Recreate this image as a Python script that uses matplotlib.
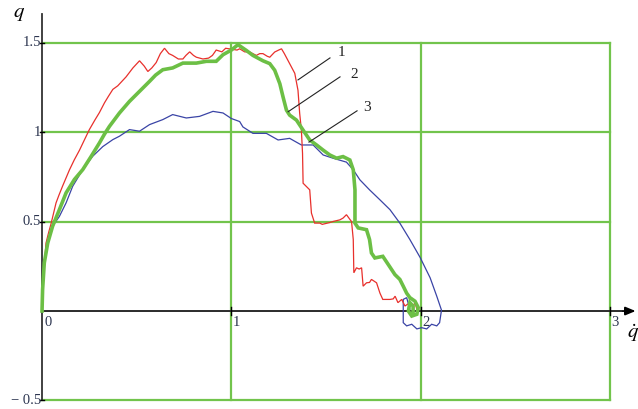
import numpy as np
import matplotlib
matplotlib.use("Agg")
import matplotlib.pyplot as plt

plt.rcParams['mathtext.fontset'] = 'stix'

# curve 1 (red) as (q_dot, q) pairs
red_pts = [(0, 0), (0.005, 0.16), (0.021, 0.38), (0.035, 0.44), (0.048, 0.49), (0.074, 0.605),
           (0.09, 0.65), (0.109, 0.70), (0.145, 0.79), (0.17, 0.845), (0.198, 0.90), (0.225, 0.96),
           (0.25, 1.015), (0.28, 1.07), (0.303, 1.11), (0.33, 1.165), (0.35, 1.20), (0.374, 1.24),
           (0.40, 1.26), (0.444, 1.31), (0.48, 1.36), (0.515, 1.40), (0.54, 1.37), (0.559, 1.34),
           (0.58, 1.36), (0.603, 1.39), (0.625, 1.44), (0.647, 1.47), (0.67, 1.44), (0.69, 1.43),
           (0.72, 1.41), (0.744, 1.41), (0.76, 1.43), (0.78, 1.45), (0.80, 1.43), (0.815, 1.42),
           (0.85, 1.41), (0.88, 1.415), (0.90, 1.43), (0.92, 1.46), (0.95, 1.45), (0.97, 1.47),
           (1.0, 1.465), (1.03, 1.46), (1.044, 1.467), (1.07, 1.45), (1.097, 1.449), (1.132, 1.43),
           (1.15, 1.44), (1.167, 1.44), (1.19, 1.425), (1.203, 1.42), (1.229, 1.449), (1.25, 1.46),
           (1.265, 1.467), (1.28, 1.44), (1.30, 1.40), (1.335, 1.33), (1.352, 1.235), (1.361, 1.105),
           (1.37, 1.012), (1.376, 0.882), (1.379, 0.715), (1.397, 0.696), (1.414, 0.678), (1.423, 0.548),
           (1.44, 0.492), (1.467, 0.492), (1.48, 0.485), (1.50, 0.49), (1.52, 0.495), (1.537, 0.501),
           (1.573, 0.51), (1.59, 0.52), (1.608, 0.539), (1.635, 0.50), (1.644, 0.40), (1.647, 0.214),
           (1.661, 0.242), (1.675, 0.235), (1.688, 0.242), (1.696, 0.139), (1.714, 0.158), (1.73, 0.16),
           (1.74, 0.177), (1.767, 0.158), (1.785, 0.10), (1.80, 0.065), (1.838, 0.065), (1.855, 0.068),
           (1.865, 0.083), (1.88, 0.047), (1.90, 0.065), (1.917, 0.028), (1.943, 0.047), (1.96, 0.028),
           (1.97, 0.047), (1.98, 0.01), (1.99, 0.01)]

# curve 2 (green, thick)
green_pts = [(0, 0), (0.003, 0.12), (0.012, 0.27), (0.03, 0.38), (0.056, 0.475), (0.092, 0.568),
             (0.127, 0.661), (0.15, 0.70), (0.171, 0.736), (0.215, 0.791), (0.26, 0.866), (0.303, 0.94),
             (0.33, 0.99), (0.356, 1.033), (0.409, 1.108), (0.462, 1.173), (0.515, 1.229), (0.568, 1.285),
             (0.60, 1.32), (0.638, 1.35), (0.69, 1.36), (0.744, 1.387), (0.815, 1.387), (0.868, 1.397),
             (0.92, 1.397), (0.956, 1.434), (1.0, 1.46), (1.035, 1.49), (1.079, 1.458), (1.114, 1.43),
             (1.167, 1.40), (1.203, 1.384), (1.229, 1.347), (1.256, 1.272), (1.273, 1.198), (1.291, 1.124),
             (1.308, 1.096), (1.344, 1.068), (1.379, 1.012), (1.414, 0.957), (1.45, 0.929), (1.485, 0.90),
             (1.52, 0.873), (1.556, 0.855), (1.59, 0.864), (1.626, 0.845), (1.644, 0.79), (1.653, 0.678),
             (1.653, 0.492), (1.67, 0.465), (1.714, 0.455), (1.73, 0.40), (1.74, 0.325), (1.758, 0.297),
             (1.80, 0.306), (1.829, 0.26), (1.864, 0.204), (1.89, 0.177), (1.908, 0.139), (1.926, 0.10),
             (1.943, 0.075), (1.97, 0.055), (1.987, 0.02), (1.98, -0.018), (1.953, -0.028), (1.935, 0.0),
             (1.943, 0.047), (1.96, 0.028), (1.96, -0.01)]

# curve 3 (blue)
blue_pts = [(0, 0), (0.003, 0.10), (0.012, 0.27), (0.03, 0.38), (0.056, 0.475), (0.092, 0.53),
            (0.127, 0.605), (0.162, 0.698), (0.215, 0.791), (0.268, 0.866), (0.321, 0.92), (0.374, 0.959),
            (0.409, 0.978), (0.462, 1.015), (0.515, 1.006), (0.568, 1.043), (0.638, 1.071), (0.69, 1.099),
            (0.762, 1.08), (0.832, 1.089), (0.903, 1.117), (0.956, 1.108), (1.0, 1.077), (1.044, 1.06),
            (1.061, 1.03), (1.114, 0.994), (1.185, 0.994), (1.247, 0.957), (1.308, 0.966), (1.37, 0.929),
            (1.432, 0.929), (1.485, 0.873), (1.537, 0.855), (1.608, 0.833), (1.644, 0.79), (1.679, 0.734),
            (1.73, 0.678), (1.785, 0.622), (1.838, 0.567), (1.89, 0.492), (1.943, 0.40), (1.997, 0.30),
            (2.05, 0.186), (2.085, 0.083), (2.11, 0.005), (2.10, -0.065), (2.085, -0.083), (2.058, -0.074),
            (2.032, -0.10), (2.005, -0.093), (1.98, -0.10), (1.953, -0.074), (1.926, -0.083), (1.908, -0.065),
            (1.908, 0.065), (1.926, 0.075), (1.943, 0.01)]

x_ticks = [1, 2, 3]
x_labels = ["1", "2", "3"]
y_ticks = [1.5, 1, 0.5, -0.5]
y_labels = ["1.5", "1", "0.5", "\u2212 0.5"]

# curve number labels: (text, label position, leader start, leader end)
curve_tags = [("1", (1.560, 1.445), (1.521, 1.416), (1.352, 1.293)),
              ("2", (1.628, 1.325), (1.574, 1.310), (1.300, 1.115)),
              ("3", (1.697, 1.140), (1.664, 1.120), (1.410, 0.945))]

grid_col = "#72c44c"
axis_col = "#333333"
lab_col = "#2c3550"

fig = plt.figure(figsize=(6.38, 4.09), dpi=100)
ax = fig.add_axes([0, 0, 1, 1])
ax.set_xlim(-0.222, 3.148)
ax.set_ylim(-0.548, 1.740)
ax.axis("off")

# green grid box
for y in [1.5, 1, 0.5, -0.5]:
    ax.plot([0, 3], [y, y], color=grid_col, lw=1.6, zorder=1)
for x in [1, 2, 3]:
    ax.plot([x, x], [-0.5, 1.5], color=grid_col, lw=1.6, zorder=1)

# axes with arrows
ax.annotate("", xy=(3.15, 0), xytext=(0, 0),
            arrowprops=dict(arrowstyle="-|>,head_length=0.6,head_width=0.25", color="black", lw=1.3), zorder=2)
ax.annotate("", xy=(0, 1.75), xytext=(0, -0.5),
            arrowprops=dict(arrowstyle="-|>,head_length=0.6,head_width=0.25", color="black", lw=1.3), zorder=2)
ax.plot([0, 3.06], [0, 0], color=axis_col, lw=1.3, zorder=2)
ax.plot([0, 0], [-0.5, 1.66], color=axis_col, lw=1.3, zorder=2)

for x, lab in zip(x_ticks, x_labels):
    ax.plot([x, x], [-0.02, 0.02], color="black", lw=1.0, zorder=2)
    ax.text(x + 0.008, -0.025, lab, ha="left", va="top", fontsize=10.5,
            family="Liberation Serif", color=lab_col)
ax.text(0.015, -0.025, "0", ha="left", va="top", fontsize=10.5,
        family="Liberation Serif", color=lab_col)
for y, lab in zip(y_ticks, y_labels):
    ax.plot([-0.012, 0.012], [y, y], color="black", lw=1.0, zorder=2)
    ax.text(-0.006, y, lab, ha="right", va="center", fontsize=10.5,
            family="Liberation Serif", color=lab_col)

ax.text(-0.12, 1.665, "$q$", fontsize=15, ha="center", va="center", color="black")
ax.text(3.12, -0.06, r"$\dot{q}$", fontsize=15, ha="center", va="top", color="black")

# curves
for pts, col, lw in [(blue_pts, "#3a44a6", 0.9), (red_pts, "#e8302c", 0.9), (green_pts, "#6cbf45", 2.6)]:
    arr = np.array(pts)
    ax.plot(arr[:, 0], arr[:, 1], color=col, lw=lw, zorder=3, solid_joinstyle="miter")

for tag, pos, p0, p1 in curve_tags:
    ax.plot([p0[0], p1[0]], [p0[1], p1[1]], color="#222222", lw=0.8, zorder=4)
    ax.text(pos[0], pos[1], tag, ha="left", va="center", fontsize=11,
            family="Liberation Serif", color="#222222")

fig.savefig("out.png", dpi=100)
